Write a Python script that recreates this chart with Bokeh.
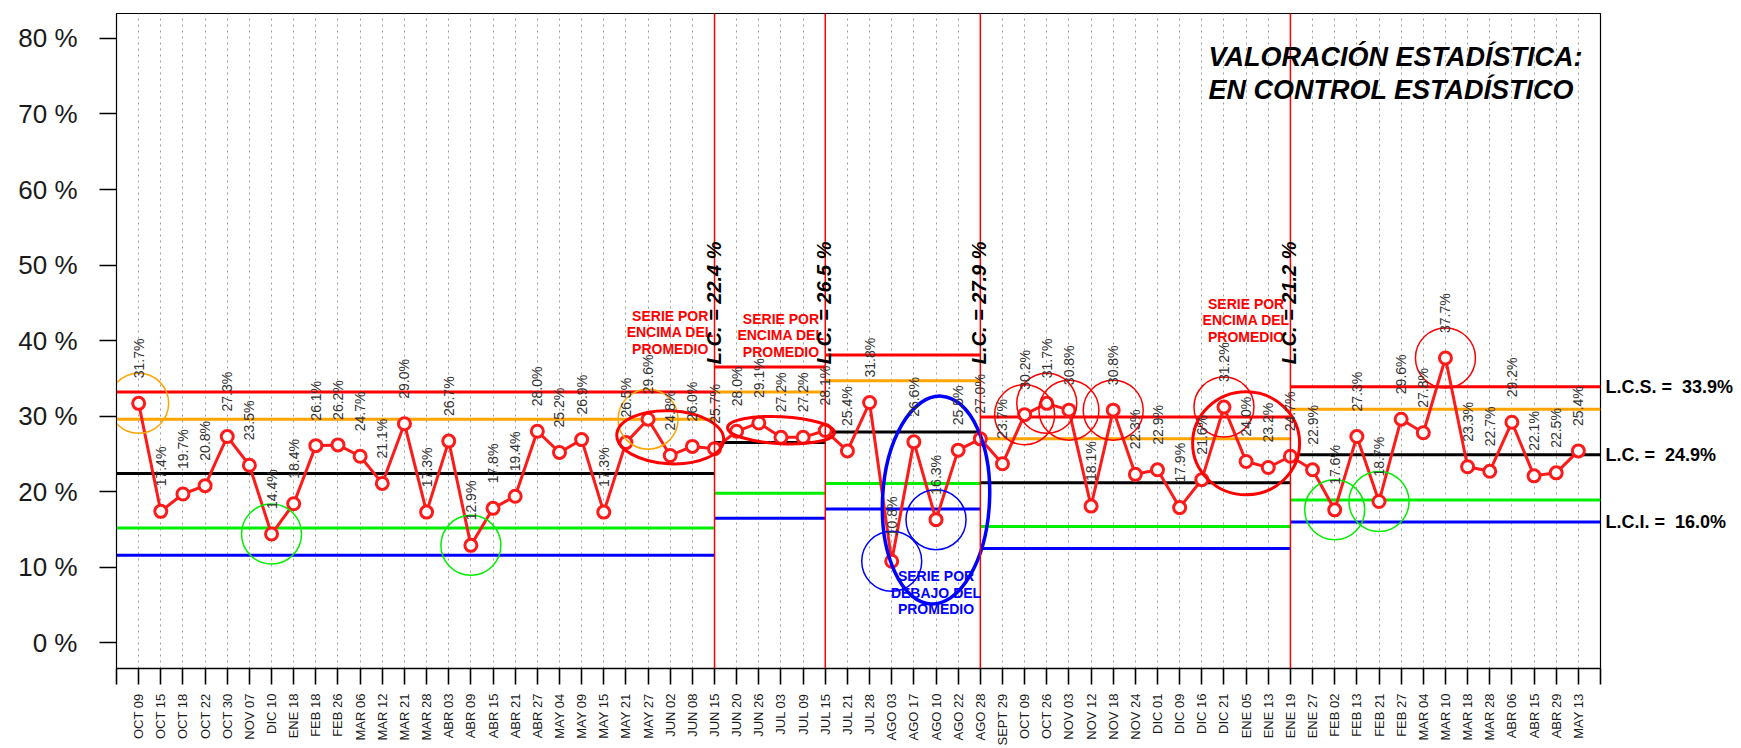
import math
from bokeh.plotting import figure
from bokeh.models import FixedTicker, Label, LabelSet, ColumnDataSource, Span, LinearAxis
from bokeh.embed import file_html
from bokeh.resources import INLINE
from bokeh.core.properties import value

# ---------------- data ----------------
dates = ["OCT 09", "OCT 15", "OCT 18", "OCT 22", "OCT 30", "NOV 07", "DIC 10", "ENE 18",
         "FEB 18", "FEB 26", "MAR 06", "MAR 12", "MAR 21", "MAR 28", "ABR 03", "ABR 09",
         "ABR 15", "ABR 21", "ABR 27", "MAY 04", "MAY 09", "MAY 15", "MAY 21", "MAY 27",
         "JUN 02", "JUN 08", "JUN 15", "JUN 20", "JUN 26", "JUL 03", "JUL 09", "JUL 15",
         "JUL 21", "JUL 28", "AGO 03", "AGO 17", "AGO 10", "AGO 22", "AGO 28", "SEPT 29",
         "OCT 09", "OCT 26", "NOV 03", "NOV 12", "NOV 18", "NOV 24", "DIC 01", "DIC 09",
         "DIC 16", "DIC 21", "ENE 05", "ENE 13", "ENE 19", "ENE 27", "FEB 02", "FEB 13",
         "FEB 21", "FEB 27", "MAR 04", "MAR 10", "MAR 18", "MAR 28", "ABR 06", "ABR 15",
         "ABR 29", "MAY 13"]

pct = [31.7, 17.4, 19.7, 20.8, 27.3, 23.5, 14.4, 18.4, 26.1, 26.2, 24.7, 21.1, 29.0,
       17.3, 26.7, 12.9, 17.8, 19.4, 28.0, 25.2, 26.9, 17.3, 26.5, 29.6, 24.8, 26.0,
       25.7, 28.0, 29.1, 27.2, 27.2, 28.1, 25.4, 31.8, 10.8, 26.6, 16.3, 25.5, 27.0,
       23.7, 30.2, 31.7, 30.8, 18.1, 30.8, 22.3, 22.9, 17.9, 21.6, 31.2, 24.0, 23.2,
       24.7, 22.9, 17.6, 27.3, 18.7, 29.6, 27.8, 37.7, 23.3, 22.7, 29.2, 22.1, 22.5,
       25.4]

# phase breaks (index of category where a new phase begins)
phase_breaks = [26, 31, 38, 52]
lcs = [33.2, 36.5, 38.1, 29.9, 33.9]   # upper control limit
up2 = [29.6, 33.2, 34.7, 27.0, 30.9]   # upper 2-sigma
lc = [22.4, 26.5, 27.9, 21.2, 24.9]    # centre line
lo2 = [15.2, 19.8, 21.1, 15.4, 18.9]   # lower 2-sigma
lci = [11.6, 16.5, 17.7, 12.5, 16.0]   # lower control limit

y_ticks = [0, 10, 20, 30, 40, 50, 60, 70, 80]

# highlighted points
orange_pts = [0, 23]
green_pts = [6, 15, 54, 56]
red_pts = [40, 41, 42, 44, 49, 59]
blue_pts = [34, 36]
# highlighted runs (first index, last index)
red_runs = [(22, 26), (27, 31), (48, 52)]
blue_runs = [(34, 38)]

title_lines = ["VALORACIÓN ESTADÍSTICA:", "EN CONTROL ESTADÍSTICO"]

# ---------------- figure ----------------
n = len(dates)
FONT = "Liberation Sans"
NB = "\u00a0"

p = figure(width=1741, height=748, output_backend="svg", toolbar_location=None,
           x_range=(-1, n), y_range=(-3.4, 83.3),
           min_border_left=116, min_border_right=141, min_border_top=13, min_border_bottom=78)
p.background_fill_color = "white"
p.border_fill_color = "white"
p.outline_line_color = "black"
p.outline_line_width = 1.2

# axes
p.xaxis.ticker = FixedTicker(ticks=[-1] + list(range(n)) + [n])
ov = {i: d for i, d in enumerate(dates)}
ov[-1] = ""
ov[n] = ""
p.xaxis.major_label_overrides = ov
p.xaxis.major_label_orientation = math.pi / 2
p.xaxis.major_label_text_font = FONT
p.xaxis.major_label_text_font_size = "13px"
p.xaxis.major_label_text_color = "#1a1a1a"
p.xaxis.major_tick_out = 16
p.xaxis.major_tick_in = 0
p.xaxis.major_tick_line_width = 1.6
p.xaxis.major_label_standoff = 9
p.xaxis.minor_tick_line_color = None
p.xaxis.axis_line_width = 1.6

p.yaxis.ticker = FixedTicker(ticks=y_ticks)
p.yaxis.major_label_overrides = {t: f"{t} %" for t in y_ticks}
p.yaxis.major_label_text_font = FONT
p.yaxis.major_label_text_font_size = "26px"
p.yaxis.major_label_text_color = "#1a1a1a"
p.yaxis.major_tick_out = 17
p.yaxis.major_tick_in = 0
p.yaxis.major_tick_line_width = 1.4
p.yaxis.major_label_standoff = 22
p.yaxis.minor_tick_line_color = None

# right-hand axis carrying the limits of the last phase
last_lim = {lcs[-1]: "L.C.S.", lc[-1]: "L.C.", lci[-1]: "L.C.I."}
rax = LinearAxis(ticker=FixedTicker(ticks=list(last_lim.keys())),
                 major_label_overrides={k: f"{v}{NB}={NB}{NB}{k:.1f}%" for k, v in last_lim.items()})
rax.axis_line_color = None
rax.major_tick_line_color = None
rax.minor_tick_line_color = None
rax.major_tick_out = 0
rax.major_tick_in = 0
rax.major_label_standoff = 5
rax.major_label_text_font = FONT
rax.major_label_text_font_size = "18px"
rax.major_label_text_font_style = "bold"
rax.major_label_text_color = "black"
p.add_layout(rax, "right")

p.xgrid.ticker = FixedTicker(ticks=list(range(n)))
p.xgrid.grid_line_color = "#9a9a9a"
p.xgrid.grid_line_dash = "2 4"
p.xgrid.grid_line_width = 1
p.ygrid.grid_line_color = None

# limit lines per phase
starts = [-1] + phase_breaks
ends = phase_breaks + [n]
for vals, col in [(lcs, "#ff0000"), (up2, "#ffa500"), (lc, "#000000"),
                  (lo2, "#00ee00"), (lci, "#0000ff")]:
    p.segment(x0=starts, x1=ends, y0=vals, y1=vals, line_color=col, line_width=3)

for b in phase_breaks:
    p.add_layout(Span(location=b, dimension="height", line_color="#ff0000", line_width=1.5))

# data
xs = list(range(n))
src = ColumnDataSource(dict(x=xs, y=pct, t=[f"{v:.1f}%" for v in pct]))
p.line("x", "y", source=src, line_color="#ff1a1a", line_width=3)
p.scatter("x", "y", source=src, marker="circle", size=12, line_color="#ff1a1a",
          line_width=3, fill_color="white")

p.add_layout(LabelSet(x="x", y="y", text="t", source=src, angle=math.pi / 2,
                      y_offset=25, text_align="left", text_baseline="middle",
                      text_font=value(FONT), text_font_size="14px", text_color="#333333"))

# highlight circles
for pts, col in [(orange_pts, "#ffa500"), (green_pts, "#00ee00"),
                 (red_pts, "#ff0000"), (blue_pts, "#0000ff")]:
    p.ellipse(x=pts, y=[pct[i] for i in pts], width=60, height=60,
              width_units="screen", height_units="screen",
              fill_color=None, line_color=col, line_width=1.5)

def run_center(a, b):
    seg = pct[a:b + 1]
    return (a + b) / 2, (min(seg) + max(seg)) / 2

red_sizes = [(107, 53, -0.05), (107, 27, -0.05), (107, 103, 0.0)]
for (a, b), (w, h, ang) in zip(red_runs, red_sizes):
    cx, cy = run_center(a, b)
    p.ellipse(x=[cx], y=[cy], width=w, height=h, angle=ang,
              width_units="screen", height_units="screen",
              fill_color=None, line_color="#ff0000", line_width=3)
for (a, b) in blue_runs:
    cx, cy = run_center(a, b)
    p.ellipse(x=[cx], y=[cy], width=107, height=208, angle=-0.05,
              width_units="screen", height_units="screen",
              fill_color=None, line_color="#0000ff", line_width=3.5)

# annotations text
def block(xc, ymid, lines, color):
    for k, s in enumerate(lines):
        p.add_layout(Label(x=xc, y=ymid, y_offset=16.5 * (1 - k), text=s,
                           text_align="center", text_baseline="middle",
                           text_font=FONT, text_font_size="14px",
                           text_font_style="bold", text_color=color))

above = ["SERIE POR", "ENCIMA DEL", "PROMEDIO"]
below = ["SERIE POR", "DEBAJO DEL", "PROMEDIO"]
block(run_center(*red_runs[0])[0], 41.1, above, "#ff0000")
block(run_center(*red_runs[1])[0], 40.7, above, "#ff0000")
block(run_center(*red_runs[2])[0], 42.7, above, "#ff0000")
block(run_center(*blue_runs[0])[0], 6.6, below, "#0000ff")

# vertical L.C. labels at each phase break
for b, v in zip(phase_breaks, lc[:-1]):
    p.add_layout(Label(x=b, y=45, x_offset=-1, text=f"L.C. = {v:.1f} %", angle=math.pi / 2,
                       text_align="center", text_baseline="alphabetic",
                       text_font=FONT, text_font_size="20px",
                       text_font_style="bold italic", text_color="black"))

# title in the top-right corner
for k, s in enumerate(title_lines):
    p.add_layout(Label(x=48.3, y=77.6, y_offset=-33 * k, text=s,
                       text_align="left", text_baseline="alphabetic",
                       text_font=FONT, text_font_size="27px",
                       text_font_style="bold italic", text_color="black"))

open("out.html", "w").write(file_html(p, INLINE))
